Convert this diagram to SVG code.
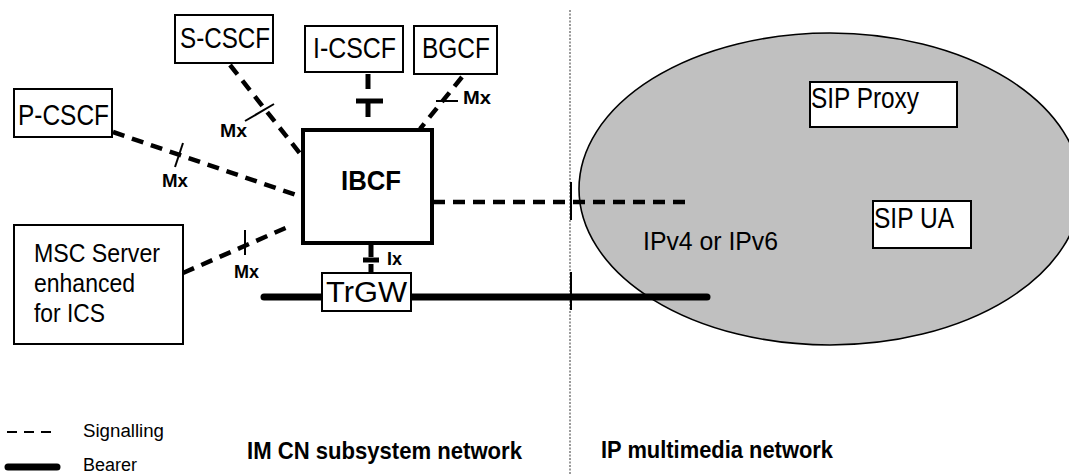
<svg xmlns="http://www.w3.org/2000/svg" width="1069" height="475" viewBox="0 0 1069 475">
<style>
text{font-family:"Liberation Sans",Arial,sans-serif;fill:#000}
.box{fill:#fff;stroke:#000;stroke-width:2}
.lbl{font-size:29px}
.mx{font-size:18px;font-weight:bold}
.sig{fill:none;stroke:#000;stroke-width:4.5;stroke-dasharray:12 8}
.thin{fill:none;stroke:#000;stroke-width:2}
.solid{fill:none;stroke:#000;stroke-width:5}
</style>
<rect width="1069" height="475" fill="#fff"/>

<g id="ip-network">
<ellipse cx="830" cy="189" rx="251" ry="156" fill="#c0c0c0" stroke="#000" stroke-width="1.6"/>
<text x="643" y="250" font-size="26" textLength="135" lengthAdjust="spacingAndGlyphs">IPv4 or IPv6</text>
</g>

<g id="separator">
<line x1="570" y1="10" x2="570" y2="475" stroke="#9a9a9a" stroke-width="2" stroke-dasharray="2 1.5"/>
<line x1="571" y1="182" x2="571" y2="220" class="thin"/>
<line x1="571" y1="272" x2="571" y2="310" class="thin"/>
</g>

<g id="connectors">
<!-- S-CSCF to IBCF -->
<line x1="230" y1="65" x2="302" y2="156" class="sig"/>
<line x1="245" y1="121" x2="274" y2="104" class="thin"/>
<!-- P-CSCF to IBCF -->
<line x1="113" y1="132" x2="302" y2="197" class="sig"/>
<line x1="183" y1="143" x2="175" y2="167" class="thin"/>
<!-- MSC to IBCF -->
<line x1="183" y1="273" x2="290" y2="226" class="sig"/>
<line x1="245" y1="230" x2="245" y2="255" class="thin"/>
<!-- I-CSCF to IBCF -->
<line x1="368" y1="74" x2="368" y2="89" class="solid"/>
<line x1="368" y1="100" x2="368" y2="117" class="solid"/>
<line x1="356" y1="101" x2="383" y2="101" class="solid" stroke-width="4"/>
<!-- BGCF to IBCF -->
<line x1="462" y1="77" x2="420" y2="129" class="sig"/>
<line x1="436" y1="101" x2="458" y2="101" class="thin"/>
<!-- IBCF to IP network -->
<line x1="433" y1="202" x2="686" y2="202" class="sig" stroke-width="5" stroke-dasharray="16 8"/>
<!-- IBCF to TrGW -->
<line x1="371" y1="245" x2="371" y2="257" class="solid"/>
<line x1="363" y1="260" x2="379" y2="260" class="solid" stroke-width="3"/>
<line x1="371" y1="264" x2="371" y2="273" class="solid" stroke-width="4"/>
<!-- Bearer -->
<line x1="264" y1="297" x2="707" y2="297" stroke="#000" stroke-width="7" stroke-linecap="round"/>
<!-- Mx / Ix labels -->
<text x="220" y="137" class="mx" textLength="27" lengthAdjust="spacingAndGlyphs">Mx</text>
<text x="162" y="187" class="mx" textLength="26" lengthAdjust="spacingAndGlyphs">Mx</text>
<text x="234" y="278" class="mx" textLength="25" lengthAdjust="spacingAndGlyphs">Mx</text>
<text x="463" y="104" class="mx" textLength="28" lengthAdjust="spacingAndGlyphs">Mx</text>
<text x="387" y="265" class="mx" textLength="15" lengthAdjust="spacingAndGlyphs">Ix</text>
</g>

<g id="s-cscf">
<rect x="175" y="15" width="98" height="48" class="box"/>
<text x="180" y="48" class="lbl" textLength="90" lengthAdjust="spacingAndGlyphs">S-CSCF</text>
</g>
<g id="p-cscf">
<rect x="14" y="89" width="98" height="48" class="box"/>
<text x="18" y="125" class="lbl" textLength="91" lengthAdjust="spacingAndGlyphs">P-CSCF</text>
</g>
<g id="i-cscf">
<rect x="305" y="26" width="98" height="46" class="box"/>
<text x="313" y="58" class="lbl" textLength="83" lengthAdjust="spacingAndGlyphs">I-CSCF</text>
</g>
<g id="bgcf">
<rect x="414" y="26" width="83" height="48" class="box"/>
<text x="422" y="58" class="lbl" textLength="68" lengthAdjust="spacingAndGlyphs">BGCF</text>
</g>
<g id="ibcf">
<rect x="303" y="130" width="129" height="113" fill="#fff" stroke="#000" stroke-width="4"/>
<text x="341" y="190" font-size="27" font-weight="bold" textLength="60" lengthAdjust="spacingAndGlyphs">IBCF</text>
</g>
<g id="msc">
<rect x="14" y="225" width="169" height="119" class="box"/>
<text x="34" y="262" font-size="25" textLength="126" lengthAdjust="spacingAndGlyphs">MSC Server</text>
<text x="34" y="292" font-size="25" textLength="101" lengthAdjust="spacingAndGlyphs">enhanced</text>
<text x="34" y="322" font-size="25" textLength="71" lengthAdjust="spacingAndGlyphs">for ICS</text>
</g>
<g id="trgw">
<rect x="322" y="273" width="89" height="38" class="box"/>
<text x="326" y="302" font-size="29" textLength="81" lengthAdjust="spacingAndGlyphs">TrGW</text>
</g>
<g id="sip-proxy">
<rect x="810" y="82" width="147" height="45" class="box"/>
<text x="811" y="108" class="lbl" textLength="108" lengthAdjust="spacingAndGlyphs">SIP Proxy</text>
</g>
<g id="sip-ua">
<rect x="873" y="201" width="98" height="47" class="box"/>
<text x="874" y="228" class="lbl" textLength="80" lengthAdjust="spacingAndGlyphs">SIP UA</text>
</g>

<g id="legend">
<line x1="7" y1="432" x2="52" y2="432" stroke="#000" stroke-width="2" stroke-dasharray="10 7"/>
<text x="83" y="437" font-size="18" textLength="81" lengthAdjust="spacingAndGlyphs">Signalling</text>
<line x1="8" y1="467" x2="57" y2="467" stroke="#000" stroke-width="7" stroke-linecap="round"/>
<text x="83" y="471" font-size="18" textLength="54" lengthAdjust="spacingAndGlyphs">Bearer</text>
<text x="247" y="459" font-size="24" font-weight="bold" textLength="275" lengthAdjust="spacingAndGlyphs">IM CN subsystem network</text>
<text x="601" y="458" font-size="24" font-weight="bold" textLength="232" lengthAdjust="spacingAndGlyphs">IP multimedia network</text>
</g>
</svg>
